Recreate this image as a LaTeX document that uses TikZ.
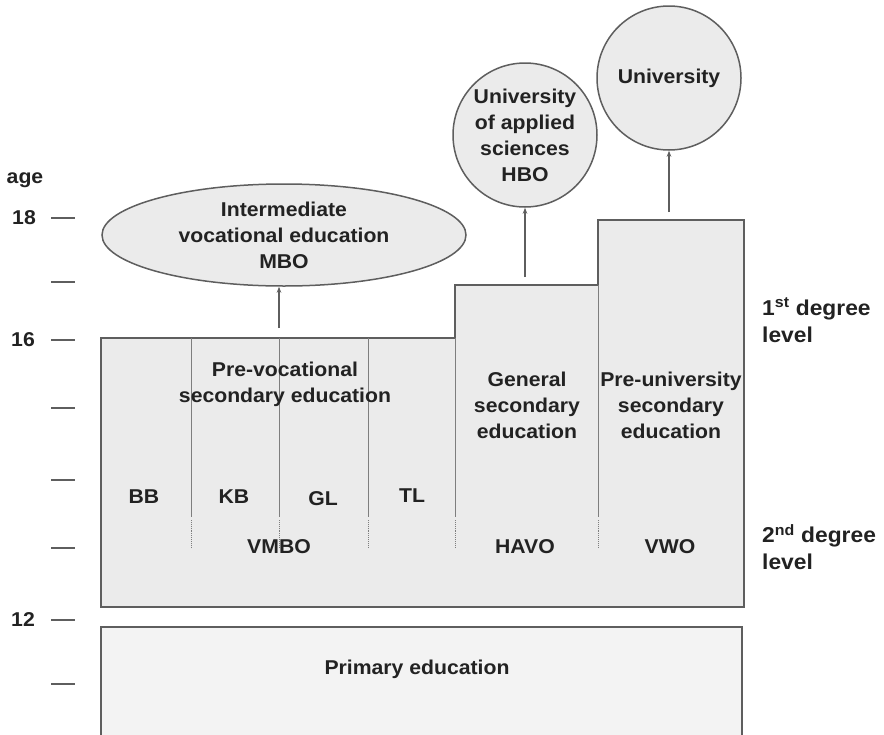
\documentclass[tikz,border=0pt]{standalone}
\usepackage{fontspec}
\setmainfont{Liberation Sans}[FakeStretch=1.06]
\usetikzlibrary{arrows.meta, shapes.geometric}

\definecolor{boxfill}{HTML}{EBEBEB}
\definecolor{primfill}{HTML}{F3F3F3}
\definecolor{edgegray}{HTML}{5E5E5E}
\definecolor{ink}{HTML}{222222}

\tikzset{
    lbl/.style={font=\bfseries\fontsize{20}{26}\selectfont, text=ink,
                align=center, inner sep=0pt},
    biglbl/.style={lbl, font=\bfseries\fontsize{21.5}{27}\selectfont,
                   align=left, anchor=west},
    bubble/.style={circle, draw=edgegray, fill=boxfill, line width=1.5pt,
                   minimum size=144pt, inner sep=0pt, lbl},
    upto/.style={-{Stealth[length=6pt, width=4.5pt]}, edgegray, line width=1.2pt},
    divider/.style={edgegray!80, line width=0.9pt},
}

\begin{document}
\begin{tikzpicture}[x=1pt, y=-1pt]

    \useasboundingbox (0,0) rectangle (884,734);

    \def\xl{101}
    \def\xr{744}
    \def\ybot{607}
    \def\solidend{517}
    \def\dotend{547}

    % ── Secondary school outline (staircase) ─────────────────────────────────
    \filldraw[fill=boxfill, draw=edgegray, line width=1.6pt]
        (\xl,338) -- (455,338) -- (455,285) -- (598,285) -- (598,220)
        -- (\xr,220) -- (\xr,\ybot) -- (\xl,\ybot) -- cycle;

    % ── Primary school box (runs off the page) ───────────────────────────────
    \filldraw[fill=primfill, draw=edgegray, line width=1.6pt]
        (\xl,627) rectangle (742,760);

    % ── Stream dividers: solid, then dotted ──────────────────────────────────
    \foreach \x/\ytop in {191/338, 279/338, 368/338, 455/338, 598/285} {
        \draw[divider] (\x,\ytop) -- (\x,\solidend);
        \draw[divider, densely dotted] (\x,\solidend+3) -- (\x,\dotend);
    }

    % ── Age axis ─────────────────────────────────────────────────────────────
    \foreach \y in {218, 282, 340, 408, 480, 548, 620, 684}
        \draw[edgegray, line width=1.3pt] (51,\y) -- (75,\y);
    \node[lbl, anchor=east] (age18) at (36,218) {18};
    \node[lbl, anchor=east] (age16) at (35,340) {16};
    \node[lbl, anchor=east] (age12) at (35,620) {12};
    \node[lbl] (age) at (25,180) {age};

    % ── Labels inside the boxes ──────────────────────────────────────────────
    \node[lbl] (prevoc) at (285,384) {Pre-vocational\\secondary education};
    \node[lbl] (general) at (527,405) {General\\secondary\\education};
    \node[lbl] (preuni) at (671,405) {Pre-university\\secondary\\education};

    \node[lbl] (bb) at (144,497) {BB};
    \node[lbl] (kb) at (234,497) {KB};
    \node[lbl] (gl) at (323,499) {GL};
    \node[lbl] (tl) at (412,496) {TL};

    \node[lbl] (vmbo) at (279,547) {VMBO};
    \node[lbl] (havo) at (525,547) {HAVO};
    \node[lbl] (vwo) at (670,547) {VWO};

    \node[lbl] (primary) at (417,669) {Primary education};

    % ── Degree levels on the right ───────────────────────────────────────────
    \node[biglbl] (first) at (762,320)
        {1\textsuperscript{st} degree\\level};
    \node[biglbl] (second) at (762,547)
        {2\textsuperscript{nd} degree\\level};

    % ── Follow-up education ──────────────────────────────────────────────────
    \node[ellipse, draw=edgegray, fill=boxfill, line width=1.5pt,
          minimum width=364pt, minimum height=102pt, inner sep=0pt, lbl]
        (mbo) at (284,235) {Intermediate\\vocational education\\MBO};
    \node[bubble] (hbo) at (525,135)
        {University\\of applied\\sciences\\HBO};
    \node[bubble] (uni) at (669,78) {University};

    % ── Arrows up ────────────────────────────────────────────────────────────
    \coordinate (mbofoot) at (279,328);
    \coordinate (hbofoot) at (525,277);
    \coordinate (unifoot) at (669,212);
    \draw[upto] (mbofoot) -- (mbofoot |- mbo.south);
    \draw[upto] (hbofoot) -- (hbo.south);
    \draw[upto] (unifoot) -- (uni.south);

\end{tikzpicture}
\end{document}
